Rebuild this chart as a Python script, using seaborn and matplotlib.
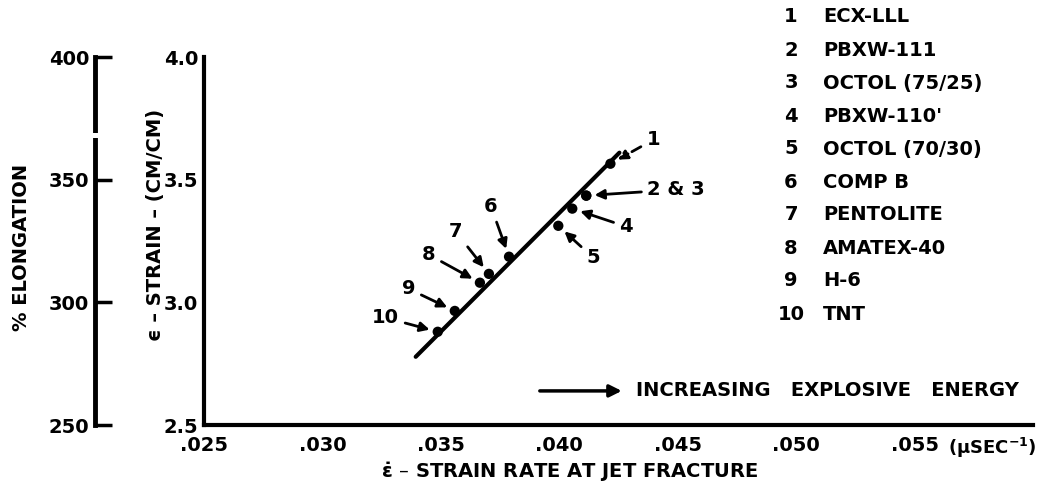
import matplotlib
matplotlib.use("Agg")
import matplotlib.pyplot as plt
from matplotlib.lines import Line2D
import seaborn as sns
import pandas as pd

# ---- data ----
ids = ["1", "2", "3", "4", "5", "6", "7", "8", "9", "10"]
names = ["ECX-LLL", "PBXW-111", "OCTOL (75/25)", "PBXW-110'", "OCTOL (70/30)",
         "COMP B", "PENTOLITE", "AMATEX-40", "H-6", "TNT"]
strain_rate = [0.04216, 0.04114, 0.04114, 0.04055, 0.03996,
               0.03788, 0.03703, 0.03665, 0.03559, 0.03487]
strain = [3.565, 3.435, 3.435, 3.382, 3.312,
          3.186, 3.116, 3.080, 2.965, 2.880]
point_labels = ["1", "2 & 3", None, "4", "5", "6", "7", "8", "9", "10"]
fit_rate = [0.03394, 0.04254]
fit_strain = [2.778, 3.610]
x_ticks = [0.025, 0.030, 0.035, 0.040, 0.045, 0.050, 0.055, 0.060]
x_tick_labels = [".025", ".030", ".035", ".040", ".045", ".050", ".055", ""]
y_ticks = [2.5, 3.0, 3.5, 4.0]
y_tick_labels = ["2.5", "3.0", "3.5", "4.0"]
elong_ticks = [250, 300, 350, 400]

# label offsets (pixels) for each annotated point
label_offsets = {"1": (43, 24), "2 & 3": (90, 6), "4": (54, -18), "5": (35, -32),
                 "6": (-18, 50), "7": (-33, 42), "8": (-51, 28), "9": (-46, 22),
                 "10": (-52, 14)}

sns.set_style("white")
plt.rcParams["font.family"] = ["DejaVu Sans"]
plt.rcParams["font.weight"] = "bold"
plt.rcParams["text.color"] = "black"
plt.rcParams["axes.labelcolor"] = "black"
plt.rcParams["xtick.color"] = "black"
plt.rcParams["ytick.color"] = "black"
plt.rcParams["mathtext.fontset"] = "dejavusans"
plt.rcParams["mathtext.default"] = "bf"

FS = 14
fig = plt.figure(figsize=(10.39, 4.91), dpi=100)
ax = fig.add_axes([0.1963, 0.1344, 0.7979, 0.7495])

df = pd.DataFrame({"rate": strain_rate, "strain": strain})
fit = pd.DataFrame({"rate": fit_rate, "strain": fit_strain})
sns.lineplot(data=fit, x="rate", y="strain", ax=ax, color="black", lw=3)
sns.scatterplot(data=df, x="rate", y="strain", ax=ax, color="black", s=55,
                edgecolor="none", zorder=5)

ax.set_xlim(0.025, 0.060)
ax.set_ylim(2.5, 4.0)
ax.set_xticks(x_ticks)
ax.set_xticklabels(x_tick_labels)
ax.set_yticks(y_ticks)
ax.set_yticklabels(y_tick_labels)
ax.tick_params(axis="both", direction="in", length=12, width=2.5,
               labelsize=FS, colors="black")
ax.tick_params(axis="x", pad=8)
ax.tick_params(axis="y", pad=4)
for s in ["top", "right"]:
    ax.spines[s].set_visible(False)
for s in ["left", "bottom"]:
    ax.spines[s].set_linewidth(3)
    ax.spines[s].set_color("black")
ax.set_xlabel("")
ax.set_ylabel("")

# secondary elongation axis
sec = ax.secondary_yaxis(-0.1315, functions=(lambda y: y * 100, lambda p: p / 100))
sec.set_yticks(elong_ticks)
sec.tick_params(direction="in", length=12, width=2.5, labelsize=FS, pad=4,
                colors="black")
sec.spines["left"].set_linewidth(3.5)
sec.spines["left"].set_color("black")
# small break in the elongation spine
fig.add_artist(Line2D([95 / 1039] * 2, [1 - 133 / 491, 1 - 138 / 491],
                      color="white", lw=6, zorder=10, solid_capstyle="butt"))

# axis titles
fig.text(22 / 1039, 1 - 247 / 491, "% ELONGATION", rotation=90, ha="center",
         va="center", fontsize=FS, fontweight="bold")
fig.text(155 / 1039, 1 - 225 / 491, "\u03f5 \u2013 STRAIN \u2013 (CM/CM)", rotation=90,
         ha="center", va="center", fontsize=FS, fontweight="bold")
fig.text(570 / 1039, 1 - 472 / 491,
         "$\\dot{\\epsilon}$ \u2013 STRAIN RATE AT JET FRACTURE",
         ha="center", va="center", fontsize=FS, fontweight="bold")
ax.text(1.004, -0.03, r"($\mu$SEC$^{-1}$)", transform=ax.transAxes,
        ha="right", va="top", fontsize=13, fontweight="bold")

# point annotations
for x, y, lab in zip(strain_rate, strain, point_labels):
    if lab is None:
        continue
    dx, dy = label_offsets[lab]
    ls = "--" if lab == "1" else "-"
    ax.annotate(lab, xy=(x, y), xytext=(dx, dy), textcoords="offset pixels",
                ha="center", va="center", fontsize=FS, fontweight="bold",
                arrowprops=dict(arrowstyle="-|>", color="black", lw=2, ls=ls,
                                shrinkA=2, shrinkB=6, mutation_scale=14))

# increasing energy arrow
ax.annotate("", xy=(0.04264, 2.639), xytext=(0.03918, 2.639),
            arrowprops=dict(arrowstyle="-|>", color="black", lw=2.5,
                            mutation_scale=18, shrinkA=0, shrinkB=0))
ax.text(0.04324, 2.639, "INCREASING   EXPLOSIVE   ENERGY", ha="left", va="center",
        fontsize=FS, fontweight="bold")

# material list
for i, (n, name) in enumerate(zip(ids, names)):
    yy = 1 - (17 + 33 * i) / 491
    fig.text(791 / 1039, yy, n, ha="center", va="center", fontsize=FS, fontweight="bold")
    fig.text(823 / 1039, yy, name, ha="left", va="center", fontsize=FS, fontweight="bold")

fig.savefig("out.png", dpi=100)
